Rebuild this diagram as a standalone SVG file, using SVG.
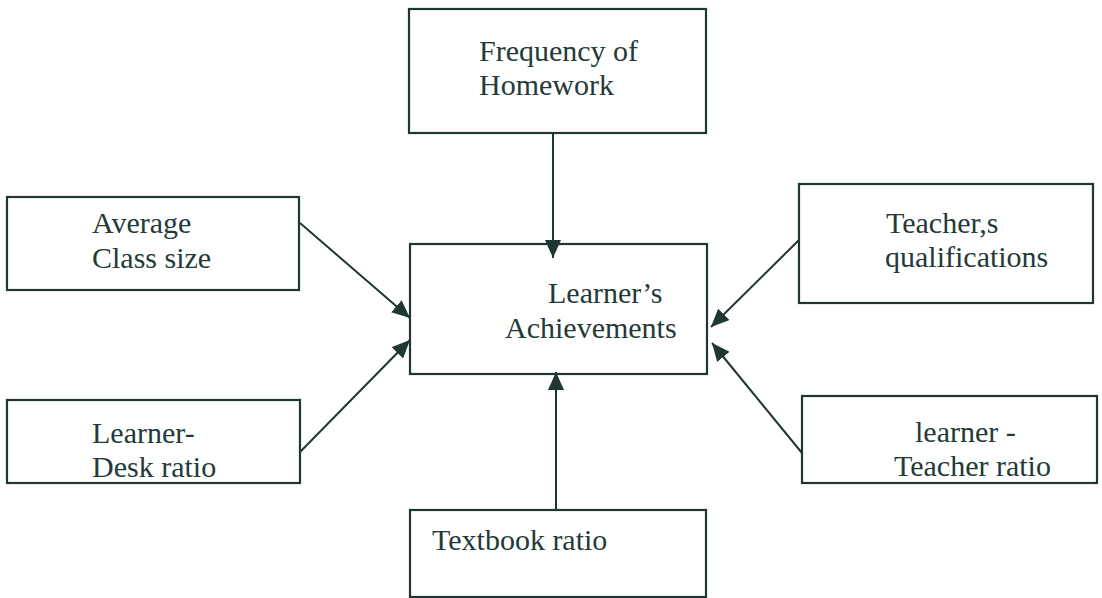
<svg xmlns="http://www.w3.org/2000/svg" width="1102" height="598" viewBox="0 0 1102 598">
<defs>
<marker id="ah" markerUnits="userSpaceOnUse" markerWidth="18" markerHeight="16" refX="18" refY="8" orient="auto">
<path d="M0,0 L18,8 L0,16 z" fill="#1f3634"/>
</marker>
<style>
.box{fill:#ffffff;stroke:#1f3634;stroke-width:2.2}
.lbl{font-family:"Liberation Serif","Times New Roman",serif;font-size:30px;fill:#243a38}
.con{stroke:#1f3634;stroke-width:2;fill:none;marker-end:url(#ah)}
</style>
</defs>
<rect width="1102" height="598" fill="#ffffff"/>
<g id="connectors">
<line class="con" x1="553" y1="133" x2="553" y2="258"/>
<line class="con" x1="300" y1="223" x2="410" y2="318"/>
<line class="con" x1="300" y1="452" x2="410" y2="340"/>
<line class="con" x1="799" y1="240" x2="711" y2="327"/>
<line class="con" x1="802" y1="453" x2="712" y2="343"/>
<line class="con" x1="556" y1="513" x2="556" y2="372"/>
</g>
<g id="frequency">
<rect class="box" x="409" y="9" width="297" height="124"/>
<text class="lbl" x="479" y="61">Frequency of</text>
<text class="lbl" x="479" y="95">Homework</text>
</g>
<g id="average">
<rect class="box" x="7" y="197" width="292" height="93"/>
<text class="lbl" x="92" y="233">Average</text>
<text class="lbl" x="92" y="268">Class size</text>
</g>
<g id="desk">
<rect class="box" x="7" y="400" width="293" height="83"/>
<text class="lbl" x="92" y="443">Learner-</text>
<text class="lbl" x="92" y="477">Desk ratio</text>
</g>
<g id="achievements">
<rect class="box" x="410" y="244" width="297" height="130" fill-opacity="0"/>
<text class="lbl" x="548" y="303">Learner’s</text>
<text class="lbl" x="505" y="338">Achievements</text>
</g>
<g id="qualifications">
<rect class="box" x="799" y="184" width="294" height="119"/>
<text class="lbl" x="886" y="233">Teacher,s</text>
<text class="lbl" x="885" y="267">qualifications</text>
</g>
<g id="teacherratio">
<rect class="box" x="802" y="396" width="295" height="87"/>
<text class="lbl" x="915" y="442">learner -</text>
<text class="lbl" x="894" y="476">Teacher ratio</text>
</g>
<g id="textbook">
<rect class="box" x="410" y="510" width="296" height="87"/>
<text class="lbl" x="432" y="550">Textbook ratio</text>
</g>
</svg>
